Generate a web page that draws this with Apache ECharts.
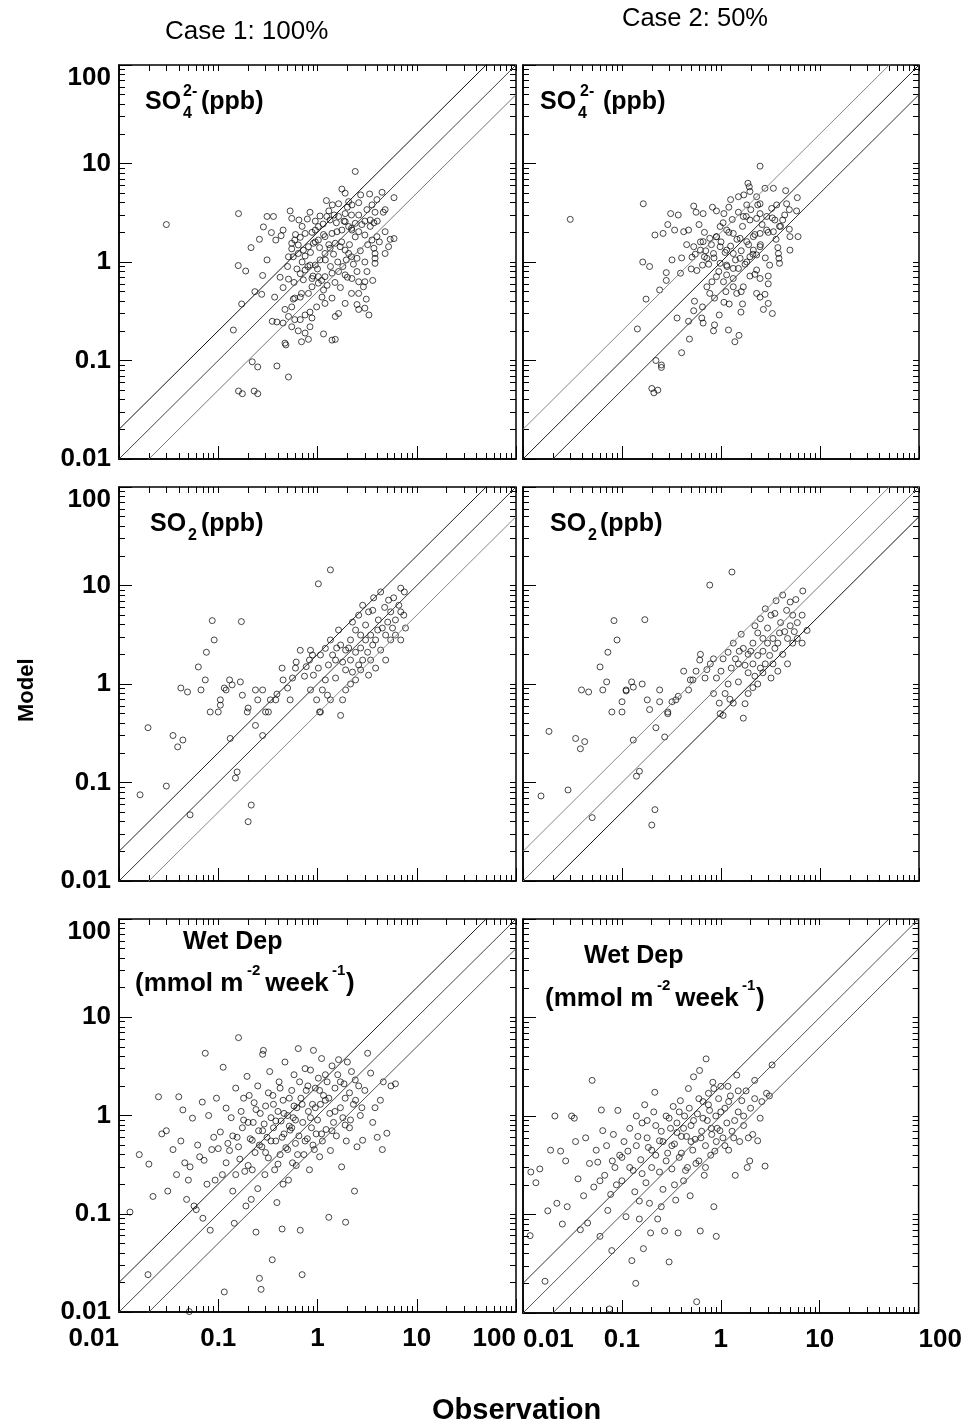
<!DOCTYPE html>
<html><head><meta charset="utf-8">
<script src="https://cdn.jsdelivr.net/npm/echarts@6/dist/echarts.min.js"></script>
<style>html,body{margin:0;padding:0;background:#fff}#c{width:965px;height:1426px}</style>
</head><body><div id="c"></div>
<script>
// ---- DATA (observation x, model y) ----
const so4Case1Obs = [0.030,0.16,2.4,0.31,0.36,0.53,0.84,0.285,0.343,0.26,0.214,0.38,0.43,0.45,0.55,0.65,0.79,1.06,1.23,1.41,1.63,1.76,1.90,2.06,2.22,2.72,3.35,4.47,5.9,3.97,3.54,3.15,4.8,4.6,3.8,3.4,3.7,3.0,2.6,2.2,2.4,2.2,1.9,1.9,1.63,1.47,1.24,1.34,1.14,1.02,0.95,0.88,0.75,0.67,0.59,0.55,0.64,0.55,0.51,0.57,0.64,0.72,0.81,0.91,1.02,1.19,1.40,1.57,1.76,2.06,2.22,2.6,3.0,3.54,3.97,4.8,5.4,5.9,5.2,4.8,3.7,3.8,3.8,3.8,3.15,2.5,2.2,2.06,1.90,1.69,1.51,1.34,1.19,1.06,0.95,0.84,0.75,0.67,0.72,0.88,1.02,1.19,1.40,1.63,1.90,2.22,2.6,3.0,2.9,2.6,2.2,2.5,2.6,3.0,3.3,1.63,1.51,1.40,1.19,1.11,1.15,1.02,0.88,0.81,0.69,0.59,0.55,0.47,0.51,0.59,0.67,0.75,0.84,0.88,0.84,0.75,0.64,0.55,0.45,0.35,0.47,0.69,0.81,1.15,1.40,1.51,0.142,0.172,0.234,0.274,0.37,0.159,0.189,0.28,0.31,0.51,0.57,0.67,0.22,0.25,0.16,0.175,0.23,0.25,0.51,0.39,0.48,0.39];
const so4Case1Mod = [2.4,3.1,8.3,2.9,2.9,3.3,3.2,2.27,1.99,1.70,1.40,1.67,1.85,2.11,2.77,2.67,2.73,2.93,4.2,3.8,3.9,5.5,5.0,4.1,3.8,4.8,4.9,5.1,4.5,4.3,3.8,3.4,3.4,3.2,3.2,2.67,2.5,2.6,3.0,3.0,2.47,2.2,3.1,2.57,2.9,3.0,2.9,2.67,2.43,2.29,2.11,2.0,1.95,1.78,1.67,1.55,1.49,1.36,1.13,1.13,1.22,1.32,1.43,1.55,1.67,1.81,1.95,2.03,2.11,2.29,2.11,2.03,1.88,1.67,1.81,2.03,1.70,1.73,1.43,1.22,1.38,1.22,1.09,0.97,0.80,1.09,1.13,1.22,1.32,1.43,1.55,1.38,1.22,1.05,0.93,0.93,0.83,0.76,0.66,0.68,0.71,0.71,0.77,0.80,0.74,0.68,0.63,0.63,0.56,0.48,0.48,0.37,0.33,0.34,0.29,0.30,0.28,0.43,0.38,0.44,0.52,0.61,0.56,0.48,0.48,0.43,0.35,0.33,0.28,0.26,0.26,0.29,0.31,0.27,0.22,0.19,0.20,0.22,0.24,0.25,0.15,0.155,0.164,0.186,0.161,0.164,0.204,0.375,0.50,0.47,0.44,0.92,0.81,0.73,1.05,0.67,0.42,0.44,0.097,0.086,0.049,0.046,0.049,0.046,0.068,0.088,0.144,0.246];
const so4Case1Core = [[0.7,1.0],[0.75,1.15],[0.8,0.9],[0.85,1.25],[0.9,0.72],[0.95,1.6],[1.0,0.85],[1.05,1.4],[1.1,0.65],[1.15,1.9],[1.2,1.05],[1.25,0.58],[1.3,1.5],[1.35,0.9],[1.45,1.2],[1.5,0.62],[1.55,2.5],[1.6,1.0],[1.7,0.55],[1.75,1.6],[1.8,0.9],[1.85,2.6],[1.95,1.05],[2.0,0.7],[2.1,1.5],[2.3,0.95],[2.4,1.8],[2.5,0.8],[2.7,1.3],[2.8,2.4],[3.0,1.0],[3.2,1.5],[3.4,2.3],[3.6,0.65],[4.0,2.6],[4.2,1.6],[0.62,0.85],[0.58,0.62],[0.5,0.9],[0.45,0.55],[0.42,0.7],[0.6,1.9],[0.7,2.3],[0.95,2.6],[1.3,3.3],[2.0,3.6],[2.6,4.0],[3.1,0.42],[1.9,0.38],[0.98,0.35]];

const so4Case2Obs = [0.030,0.164,2.48,0.31,0.37,0.53,0.56,0.66,0.82,1.07,1.25,1.50,1.87,1.93,1.96,2.29,2.78,3.38,2.48,1.82,1.68,1.96,2.29,2.48,2.89,3.25,3.65,4.5,4.6,4.9,5.9,5.8,3.5,3.9,3.38,2.89,2.48,2.12,1.82,1.56,1.33,1.14,0.98,0.90,0.77,0.66,0.53,0.51,0.47,0.42,0.34,0.29,0.26,0.215,0.32,0.39,0.28,0.28,0.24,0.19,0.162,0.175,0.143,0.36,0.47,0.53,0.54,0.65,0.64,0.66,0.84,0.86,0.96,0.48,1.19,1.52,1.38,1.21,1.07,1.12,0.86,0.77,0.72,0.81,0.90,1.14,1.33,1.50,1.68,1.96,2.29,2.48,3.0,2.29,2.48,2.78,3.0,2.68,3.3,1.59,1.65,3.1,3.9,3.85,3.8,3.75,4.97,4.97,6.0,4.9,4.2,2.48,2.12,1.96,2.29,1.82,1.56,1.33,1.14,0.98,0.84,0.72,0.65,0.57,0.68,0.62,0.98,1.14,1.33,1.06,1.33,1.44,0.20,0.21,0.23,0.25,0.22,0.25,0.40];
const so4Case2Mod = [2.71,3.9,9.4,3.1,3.0,3.7,3.2,3.1,3.6,3.1,4.3,4.6,6.3,5.8,5.2,4.6,5.6,5.6,3.9,3.8,2.9,2.67,2.77,3.1,2.9,3.5,3.8,5.3,3.9,3.4,4.5,3.3,2.67,2.3,2.03,2.11,1.95,1.81,1.61,1.74,1.95,2.11,2.29,1.81,1.74,1.61,1.43,1.12,2.11,2.03,2.11,2.4,1.95,1.88,1.05,0.77,0.65,0.78,0.52,0.90,1.0,0.42,0.209,0.27,0.25,0.32,0.40,0.35,0.27,0.24,0.20,0.23,0.29,0.165,0.204,0.18,0.155,0.375,0.39,0.50,0.43,0.48,0.56,0.63,0.71,0.74,0.68,0.86,0.56,0.72,0.83,0.68,0.72,0.48,0.44,0.47,0.38,0.33,0.30,0.31,0.375,0.93,0.97,1.09,1.22,1.40,1.32,1.81,1.81,2.15,2.67,1.43,1.32,1.13,1.18,1.0,1.09,1.22,1.32,1.43,1.22,1.09,0.93,0.82,1.13,1.32,0.97,0.93,0.86,0.63,0.56,0.48,0.052,0.047,0.050,0.090,0.10,0.085,0.12];
const so4Case2Core = [[0.7,1.3],[0.75,0.95],[0.8,1.5],[0.85,1.1],[0.9,1.8],[0.95,0.8],[1.0,1.6],[1.05,2.5],[1.1,1.25],[1.15,0.9],[1.2,2.0],[1.25,1.45],[1.3,2.7],[1.4,1.05],[1.45,1.7],[1.5,3.2],[1.6,1.3],[1.65,2.3],[1.75,0.95],[1.8,2.9],[1.9,1.5],[2.0,3.4],[2.1,1.2],[2.2,1.9],[2.35,3.8],[2.5,1.5],[2.6,2.4],[2.8,1.1],[3.0,2.0],[3.3,2.8],[3.6,1.7],[4.0,2.3],[4.4,3.0],[0.62,1.6],[0.55,1.2],[0.5,0.85],[0.45,1.5],[0.4,1.1],[0.6,2.4],[0.68,2.0],[0.9,3.3],[1.2,3.6],[1.7,4.8],[2.2,0.75],[1.6,0.5],[3.0,0.6]];

// [observation, model] pairs
const so2Case1 = [[0.0163,0.075],[0.0196,0.36],[0.030,0.092],[0.035,0.30],[0.039,0.23],[0.042,0.91],[0.049,0.83],[0.052,0.047],[0.063,1.49],[0.067,0.87],[0.076,2.1],[0.083,0.52],[0.087,4.4],[0.091,2.8],[0.10,0.52],[0.105,0.61],[0.12,0.87],[0.132,0.28],[0.149,0.111],[0.155,0.128],[0.171,4.3],[0.175,0.77],[0.196,0.52],[0.20,0.040],[0.215,0.059],[0.237,0.87],[0.28,0.87],[0.32,0.52],[0.38,0.69],[0.45,1.1],[0.53,0.69],[0.61,1.67],[0.85,2.2],[0.044,0.27],[0.074,1.1],[0.105,0.69],[0.115,0.91],[0.13,1.1],[0.138,0.98],[0.167,1.05],[0.2,0.57],[0.25,0.69],[0.30,0.52],[0.335,0.69],[0.39,0.79],[0.44,1.45],[0.50,0.91],[0.56,1.15],[0.60,1.45],[0.67,2.2],[0.74,1.2],[0.77,1.5],[0.83,1.75],[0.89,1.97],[1.05,0.52],[0.28,0.30],[0.237,0.38],
  [1.02,10.4],[1.35,14.4],[3.68,7.5],[4.33,8.6],[5.2,7.1],[5.85,7.5],[6.9,9.4],[7.5,8.6],[3.6,5.6],[4.1,4.47],[4.75,6.0],[5.46,5.4],[6.1,4.47],[6.9,5.4],[7.7,3.7],[3.05,3.97],[2.72,3.14],[2.42,3.53],[2.15,2.8],[1.92,2.21],[1.71,2.49],[1.52,1.75],[1.63,3.53],[1.35,2.8],[1.2,2.3],[1.07,1.97],[1.92,1.39],[2.15,1.75],[2.42,2.1],[2.72,2.32],[3.05,2.8],[3.43,3.14],[3.85,2.8],[4.33,2.21],[4.86,3.14],[5.46,2.8],[6.1,3.14],[6.9,2.8],[3.43,1.75],[2.72,1.39],[2.42,1.10],[2.15,1.0],[1.92,0.87],[1.35,0.69],[1.71,0.48],[1.07,0.52],[0.98,0.69],[0.85,0.87],[1.2,1.10],[1.52,1.15],[1.79,1.67],[2.06,2.32],[2.25,4.25],[2.6,5.0],[2.85,6.3],[3.27,5.4],[2.85,1.75],[3.2,2.1],[3.6,2.49],[4.04,3.53],[4.5,3.7],[5.1,4.25],[5.7,3.7],[6.6,6.3],[7.4,5.0],[1.29,1.56],[1.42,1.97],[1.56,2.32],[2.25,1.32],[2.6,1.56],[3.27,1.23],[3.85,1.45],[4.86,1.75],[1.12,0.87],[1.26,0.77],[0.91,1.23],[1.02,1.45],[1.79,0.69]];

const so2Case2 = [[0.0152,0.073],[0.0183,0.33],[0.0285,0.084],[0.034,0.28],[0.038,0.22],[0.039,0.87],[0.046,0.83],[0.050,0.044],[0.060,1.49],[0.064,0.87],[0.072,2.1],[0.079,0.52],[0.083,4.4],[0.089,2.8],[0.10,0.52],[0.11,0.87],[0.13,0.27],[0.14,0.116],[0.15,0.13],[0.17,4.5],[0.18,0.69],[0.20,0.037],[0.215,0.053],[0.24,0.87],[0.29,0.52],[0.35,0.69],[0.49,1.1],[0.61,1.75],[0.77,10.1],[1.29,13.7],
  [0.042,0.26],[0.07,1.05],[0.10,0.66],[0.11,0.85],[0.125,1.05],[0.13,0.93],[0.16,1.0],[0.19,0.55],[0.24,0.66],[0.29,0.50],[0.32,0.66],[0.37,0.75],[0.42,1.35],[0.47,0.87],[0.52,1.1],[0.56,1.35],[0.62,2.0],[0.69,1.15],[0.72,1.4],[0.78,1.6],[0.84,1.8],[0.98,0.50],[0.27,0.29],[0.22,0.36],
  [3.6,7.0],[4.2,8.0],[5.0,6.8],[5.7,7.2],[6.7,8.8],[3.5,5.2],[4.0,4.2],[4.6,5.6],[5.3,5.0],[5.9,4.2],[6.6,5.0],[7.4,3.5],[2.95,3.7],[2.65,2.9],[2.35,3.3],[2.1,2.6],[1.88,2.0],[1.68,2.3],[1.5,1.6],[1.6,3.2],[1.33,2.6],[1.18,2.1],[1.05,1.8],[1.88,1.3],[2.1,1.6],[2.35,1.95],[2.65,2.15],[2.95,2.6],[3.35,2.9],[3.75,2.6],[4.2,2.0],[4.7,2.9],[5.3,2.6],[5.9,2.9],[6.6,2.6],[3.35,1.6],[2.65,1.3],[2.35,1.0],[2.1,0.92],[1.88,0.8],[1.33,0.64],[1.68,0.45],[1.05,0.48],[0.96,0.64],[0.84,0.8],[1.18,1.0],[1.5,1.05],[1.75,1.55],[2.0,2.15],[2.2,3.9],[2.5,4.6],[2.8,5.8],[3.2,5.0],[2.8,1.6],[3.1,1.95],[3.5,2.3],[3.9,3.3],[4.4,3.4],[5.0,3.9],[5.5,3.4],[1.27,1.45],[1.4,1.8],[1.53,2.15],[2.2,1.2],[2.5,1.45],[3.2,1.15],[3.75,1.35],[4.7,1.6],[1.1,0.8],[1.23,0.7],[0.9,1.15],[1.0,1.35],[1.75,0.63]];

const wetCase1 = [[0.0129,0.104],[0.016,0.40],[0.0196,0.024],[0.020,0.32],[0.022,0.15],[0.025,1.55],[0.027,0.65],[0.030,0.70],[0.031,0.17],[0.035,0.45],[0.038,0.25],[0.040,1.55],[0.042,0.55],[0.044,1.14],[0.046,0.33],[0.048,0.14],[0.050,0.22],[0.052,0.30],[0.055,0.94],[0.057,0.12],[0.060,0.11],[0.062,0.50],[0.065,0.38],[0.069,1.37],[0.070,0.09],[0.072,0.35],[0.074,4.3],[0.077,0.20],[0.080,1.0],[0.083,0.068],[0.086,0.45],[0.090,0.60],[0.093,0.22],[0.096,1.5],[0.051,0.0101],
  [0.10,0.46],[0.105,0.68],[0.11,0.25],[0.112,3.1],[0.115,0.016],[0.12,1.19],[0.125,0.52],[0.13,0.44],[0.135,0.95],[0.14,0.17],[0.145,0.08],[0.15,1.9],[0.155,0.60],[0.16,6.2],[0.165,0.36],[0.17,1.1],[0.175,0.75],[0.18,0.90],[0.185,0.27],[0.19,0.12],[0.195,2.5],[0.20,0.31],[0.205,1.6],[0.21,0.58],[0.215,0.14],[0.22,0.56],[0.225,0.85],[0.23,1.35],[0.235,0.42],[0.24,0.065],[0.25,2.0],[0.255,0.70],[0.26,0.022],[0.265,1.05],[0.27,0.017],[0.275,0.48],[0.28,4.2],[0.285,4.6],[0.29,0.82],[0.295,0.25],[0.30,1.25],[0.31,0.60],[0.32,0.37],[0.33,2.8],[0.34,0.95],[0.35,0.034],[0.355,1.6],[0.36,0.75],[0.37,0.28],[0.38,0.55],[0.39,0.13],[0.40,1.1],[0.41,2.2],[0.42,0.40],[0.43,0.88],[0.44,0.07],[0.45,1.43],[0.46,0.65],[0.47,3.5],[0.48,0.47],[0.50,1.0],[0.51,0.22],[0.52,0.78],[0.53,0.71],[0.55,1.8],[0.56,0.33],[0.57,0.95],[0.58,2.6],[0.60,0.52],[0.61,0.31],[0.62,1.2],[0.64,4.8],[0.65,0.62],[0.67,0.068],[0.68,1.5],[0.70,0.024],[0.71,0.85],[0.73,0.40],[0.75,3.0],[0.77,1.8],[0.79,0.58],[0.81,1.1],[0.83,0.28],[0.85,2.9],[0.87,0.75],[0.89,1.3],[0.91,4.6],[0.93,0.45],[0.95,1.9],[0.97,0.65],
  [1.0,0.90],[1.02,2.4],[1.05,0.38],[1.07,1.3],[1.1,3.8],[1.12,0.55],[1.15,1.6],[1.2,1.43],[1.22,0.72],[1.25,2.2],[1.3,0.092],[1.33,1.05],[1.35,0.44],[1.4,3.2],[1.45,0.85],[1.5,1.9],[1.55,0.62],[1.6,2.6],[1.63,3.7],[1.7,1.2],[1.75,0.30],[1.8,0.95],[1.85,2.1],[1.9,1.5],[1.95,0.55],[2.0,3.5],[2.1,0.75],[2.15,0.90],[2.2,2.8],[2.3,1.3],[2.42,1.43],[2.5,0.48],[2.6,2.0],[2.7,1.0],[2.85,0.56],[3.0,1.8],[3.2,4.3],[3.43,2.7],[3.6,0.85],[3.8,1.2],[4.0,0.60],[4.3,1.43],[4.6,2.2],[5.0,0.66],[5.5,2.0],[6.1,2.1],[2.36,0.17],[1.92,0.082],[4.5,0.45],
  [0.12,0.33],[0.14,0.62],[0.16,0.48],[0.18,1.5],[0.2,0.85],[0.22,0.28],[0.24,1.15],[0.26,0.5],[0.28,0.7],[0.3,0.42],[0.32,1.7],[0.34,0.55],[0.36,1.3],[0.38,0.88],[0.4,0.32],[0.42,1.9],[0.44,0.6],[0.46,1.05],[0.5,0.45],[0.52,1.5],[0.55,0.75],[0.58,1.25],[0.6,0.9],[0.63,0.4],[0.66,2.2],[0.7,1.3],[0.75,0.55],[0.8,2.0],[0.85,0.95],[0.9,0.5],[0.95,1.2],[1.05,1.8],[1.1,0.65],[1.2,2.6],[1.3,1.5],[1.4,0.7],[1.5,1.1],[1.7,2.2],[1.9,0.8],[2.1,1.7],[2.4,2.3],[2.8,1.2],[0.15,0.25],[0.25,0.18],[0.45,0.2]];

const wetCase2 = [[0.0118,0.061],[0.012,0.27],[0.0135,0.21],[0.0148,0.29],[0.0167,0.021],[0.0178,0.109],[0.019,0.45],[0.021,1.0],[0.022,0.13],[0.024,0.44],[0.025,0.08],[0.027,0.35],[0.028,0.12],[0.031,1.0],[0.033,0.95],[0.034,0.55],[0.036,0.23],[0.038,0.07],[0.041,0.155],[0.043,0.60],[0.045,0.082],[0.047,0.33],[0.050,2.3],[0.052,0.19],[0.055,0.45],[0.057,0.34],[0.060,0.06],[0.062,1.15],[0.064,0.71],[0.067,0.25],[0.070,0.50],[0.072,0.11],[0.075,0.011],[0.077,0.16],[0.079,0.043],[0.082,0.65],[0.085,0.30],[0.088,0.20],[0.091,1.14],[0.095,0.40],
  [0.10,0.22],[0.105,0.55],[0.11,0.095],[0.115,0.44],[0.12,0.75],[0.126,0.034],[0.13,0.28],[0.135,0.17],[0.138,0.020],[0.14,1.0],[0.145,0.62],[0.15,0.137],[0.155,0.36],[0.16,0.85],[0.165,0.045],[0.17,1.3],[0.175,0.21],[0.18,0.90],[0.185,0.48],[0.19,0.13],[0.195,0.065],[0.20,0.30],[0.21,1.1],[0.215,1.74],[0.22,0.40],[0.23,0.09],[0.24,0.56],[0.25,0.70],[0.26,0.18],[0.27,0.068],[0.28,1.0],[0.29,0.42],[0.30,0.033],[0.31,0.75],[0.32,0.29],[0.33,1.25],[0.34,0.52],[0.35,0.14],[0.36,0.85],[0.37,0.065],[0.38,0.38],[0.39,1.43],[0.40,0.62],[0.42,0.22],[0.43,1.0],[0.45,0.62],[0.46,0.30],[0.47,1.9],[0.49,0.155],[0.50,0.80],[0.52,0.45],[0.53,2.5],[0.55,0.58],[0.57,0.013],[0.58,1.05],[0.60,0.35],[0.61,2.9],[0.62,0.068],[0.64,0.70],[0.66,1.4],[0.68,0.25],[0.70,0.50],[0.71,3.8],[0.73,0.90],[0.75,1.7],[0.77,1.14],[0.79,0.40],[0.81,0.65],[0.83,2.2],[0.85,0.12],[0.87,0.44],[0.89,1.0],[0.92,0.75],[0.95,1.5],[0.98,0.71],
  [1.0,2.0],[1.05,0.60],[1.1,1.2],[1.15,0.85],[1.18,2.0],[1.2,0.45],[1.25,1.6],[1.3,0.70],[1.38,0.90],[1.45,2.6],[1.5,1.1],[1.55,0.55],[1.63,1.43],[1.7,0.80],[1.8,1.8],[1.85,0.30],[1.96,0.35],[2.0,1.2],[2.1,0.65],[2.2,2.3],[2.36,0.56],[2.5,0.95],[2.6,1.4],[2.8,0.31],[2.9,1.7],[3.1,1.6],[3.3,3.3],[1.4,0.25],[0.9,0.06],
  [0.1,0.38],[0.12,0.3],[0.14,0.5],[0.16,0.26],[0.18,0.6],[0.2,0.45],[0.22,0.8],[0.24,0.27],[0.26,0.55],[0.28,0.35],[0.3,0.95],[0.32,0.5],[0.34,0.2],[0.36,0.68],[0.38,1.1],[0.4,0.42],[0.42,0.75],[0.44,0.28],[0.48,1.2],[0.5,0.55],[0.53,0.9],[0.56,0.33],[0.6,1.5],[0.63,0.6],[0.66,0.95],[0.7,0.3],[0.75,1.3],[0.8,0.75],[0.85,1.9],[0.9,0.55],[1.0,1.1],[1.1,0.5],[1.2,1.4],[1.35,0.6],[1.5,1.8],[1.7,1.0],[1.9,0.6],[2.2,1.5],[0.08,0.35],[0.06,0.22],[0.15,0.09],[0.25,0.12]];

const axisTickLabels = ['0.01','0.1','1','10','100'];
const decadeValues = [0.01,0.1,1,10,100];
const refRatios = [2,1,0.5];
const columnTitles = ['Case 1: 100%','Case 2: 50%'];
const xAxisName = 'Observation';
const yAxisName = 'Model';

// ---- LAYOUT ----
const FONT = "'Liberation Sans', Arial, sans-serif";
const zip = (a,b) => a.map((x,j)=>[x,b[j]]);
const panels = [
  {data:zip(so4Case1Obs,so4Case1Mod).concat(so4Case1Core), grid:{left:119,top:65,width:397,height:394}, col:0, row:0, lineColors:['#111','#444','#777']},
  {data:zip(so4Case2Obs,so4Case2Mod).concat(so4Case2Core), grid:{left:523,top:65,width:396,height:394}, col:1, row:0, lineColors:['#888','#222','#333']},
  {data:so2Case1, grid:{left:119,top:487,width:397,height:394}, col:0, row:1, lineColors:['#222','#333','#888']},
  {data:so2Case2, grid:{left:523,top:487,width:396,height:394}, col:1, row:1, lineColors:['#888','#777','#111']},
  {data:wetCase1, grid:{left:119,top:919,width:397,height:393}, col:0, row:2, lineColors:['#222','#444','#555']},
  {data:wetCase2, grid:{left:523,top:919,width:396,height:394}, col:1, row:2, lineColors:['#333','#555','#555']}
];

const minorVals = [];
decadeValues.slice(0,4).forEach(d => { for (let k=2;k<=9;k++) minorVals.push(+(k*d).toPrecision(3)); });
const allTickVals = decadeValues.concat(minorVals);
const fmt = v => axisTickLabels[decadeValues.findIndex(d=>Math.abs(Math.log10(d)-Math.log10(v))<1e-6)] || '';

const grids=[], xAxes=[], yAxes=[], series=[];
const baseAxis = (i, extra) => Object.assign({type:'log', logBase:10, gridIndex:i, min:0.01, max:100,
  splitLine:{show:false}}, extra);
panels.forEach((p,i) => {
  grids.push(Object.assign({show:true, borderColor:'#000', borderWidth:1.5, backgroundColor:'#fff'}, p.grid));
  const labelStyle = {fontFamily:FONT, fontWeight:'bold', fontSize:26, color:'#000'};
  const xi = xAxes.length, yi = yAxes.length;
  xAxes.push(baseAxis(i, {position:'bottom',
    axisLine:{show:true, lineStyle:{color:'#000', width:1.5}},
    axisTick:{show:true, inside:true, length:13, lineStyle:{color:'#000'}},
    axisLabel:Object.assign({show:p.row===2, margin:14, formatter:fmt,
      alignMinLabel: p.col===0 ? 'right' : 'left', alignMaxLabel: p.col===0 ? 'right' : 'left'}, labelStyle)}));
  yAxes.push(baseAxis(i, {position:'left',
    axisLine:{show:true, lineStyle:{color:'#000', width:1.5}},
    axisTick:{show:true, inside:true, length:13, lineStyle:{color:'#000'}},
    axisLabel:Object.assign({show:p.col===0, margin:8, formatter:fmt, verticalAlignMaxLabel:'top'}, labelStyle)}));
  xAxes.push(baseAxis(i, {position:'bottom', axisLine:{show:false}, axisLabel:{show:false},
    axisTick:{show:true, inside:true, length:6, customValues:minorVals, lineStyle:{color:'#000'}}}));
  yAxes.push(baseAxis(i, {position:'left', axisLine:{show:false}, axisLabel:{show:false},
    axisTick:{show:true, inside:true, length:6, customValues:minorVals, lineStyle:{color:'#000'}}}));
  xAxes.push(baseAxis(i, {position:'top', axisLine:{show:false}, axisLabel:{show:false},
    axisTick:{show:true, inside:true, length:6, customValues:allTickVals, lineStyle:{color:'#000'}}}));
  yAxes.push(baseAxis(i, {position:'right', axisLine:{show:false}, axisLabel:{show:false},
    axisTick:{show:true, inside:true, length:6, customValues:allTickVals, lineStyle:{color:'#000'}}}));
  refRatios.forEach((r,k) => {
    series.push({type:'line', xAxisIndex:xi, yAxisIndex:yi, silent:true, symbol:'none', clip:true,
      lineStyle:{color:p.lineColors[k], width:1},
      data:[[0.01, 0.01*r],[100, 100*r]]});
  });
  series.push({type:'scatter', xAxisIndex:xi, yAxisIndex:yi, symbol:'circle', symbolSize:6,
    itemStyle:{color:'rgba(255,255,255,0)', borderColor:'#000', borderWidth:0.9},
    data:p.data});
});

// ---- TEXT ----
const T = (txt,x,y,size,weight) => ({type:'text', x, y, style:{text:txt, font:`${weight||'bold'} ${size}px ${FONT}`, fill:'#000'}});
const graphics = [
  T(columnTitles[0], 165, 19, 26, 'normal'),
  T(columnTitles[1], 622, 6, 25.5, 'normal'),
  T('SO',145,90,25), T('4',183,106,16), T('2-',183,84,16), T('(ppb)',201,90,25),
  T('SO',540,90,25), T('4',578,106,16), T('2-',580,84,16), T('(ppb)',603,90,25),
  T('SO',150,512,25), T('2',188,528,16), T('(ppb)',201,512,25),
  T('SO',550,512,25), T('2',588,528,16), T('(ppb)',600,512,25),
  T('Wet Dep',183,930,25),
  T('(mmol m',135,971,26), T('-2',247,963,15), T(' week',258,971,26), T('-1',332,963,15), T(')',346,971,26),
  T('Wet Dep',584,944,25),
  T('(mmol m',545,986,26), T('-2',657,978,15), T(' week',668,986,26), T('-1',742,978,15), T(')',756,986,26),
  T(xAxisName,432,1396,29),
  {type:'text', x:16, y:722, rotation:Math.PI/2, style:{text:yAxisName, font:`bold 22px ${FONT}`, fill:'#000'}}
];

const chart = echarts.init(document.getElementById('c'), null, {renderer:'canvas'});
chart.setOption({animation:false, backgroundColor:'#fff', grid:grids, xAxis:xAxes, yAxis:yAxes, series, graphic:graphics});
</script></body></html>
